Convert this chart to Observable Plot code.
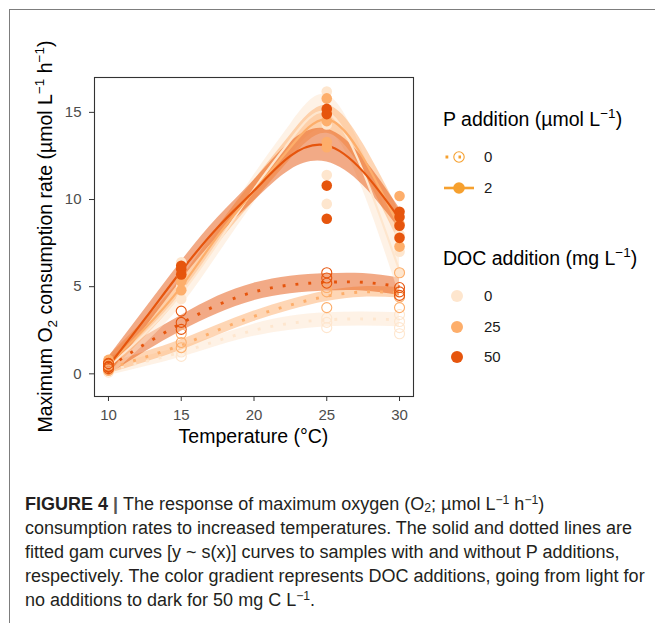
<!DOCTYPE html>
<html><head><meta charset="utf-8">
<script src="https://cdn.jsdelivr.net/npm/d3@7"></script>
<script src="https://cdn.jsdelivr.net/npm/@observablehq/plot@0.6"></script>
<style>
html,body{margin:0;padding:0;background:#fff;}
#wrap{position:relative;width:655px;height:623px;overflow:hidden;font-family:"Liberation Sans",Arial,sans-serif;background:#fff;}
#frame{position:absolute;left:9px;top:9px;width:646px;height:614px;border-top:1px solid #7d7d7d;border-left:1px solid #7d7d7d;pointer-events:none;}
#chart{position:absolute;left:0;top:0;}
#caption{position:absolute;left:25px;top:492px;font-size:18px;line-height:24px;color:#231f20;white-space:nowrap;}
#caption sub,#caption sup{font-size:0.68em;line-height:0;}
#caption sup{vertical-align:0.5em;}
#caption sub{vertical-align:-0.2em;}
</style></head>
<body><div id="wrap"><div id="chart"></div>
<div id="caption">
<div><b>FIGURE 4</b> <span style="font-weight:bold;color:#555">|</span>&nbsp;The response of maximum oxygen (O<sub>2</sub>; µmol L<sup>−1</sup> h<sup>−1</sup>)</div>
<div>consumption rates to increased temperatures. The solid and dotted lines are</div>
<div>fitted gam curves [y ~ s(x)] curves to samples with and without P additions,</div>
<div>respectively. The color gradient represents DOC additions, going from light for</div>
<div>no additions to dark for 50 mg C L<sup>−1</sup>.</div>
</div>
<div id="frame"></div></div>
<script>
// ---------- data ----------
const xTicks = [10, 15, 20, 25, 30];
const yTicks = [0, 5, 10, 15];
const docLevels = [0, 25, 50];
const docColors = ["#fee6ce", "#fdae6b", "#e6550d"];
const pLegendColor = "#f6a02e";

// fitted curves
const curveT = [10, 12.5, 15, 17.5, 20, 22.5, 25, 27.5, 30];
const fitP2doc0  = [0.4, 2.3, 4.6, 7.5, 10.6, 13.4, 15.0, 11.6, 5.9];
const seP2doc0   = [0.6, 0.6, 0.7, 0.7, 0.8, 0.9, 1.0, 1.1, 1.4];
const fitP2doc25 = [0.5, 2.6, 5.0, 7.9, 10.5, 13.0, 14.6, 12.4, 8.4];
const seP2doc25  = [0.5, 0.5, 0.5, 0.5, 0.6, 0.7, 0.8, 0.8, 0.9];
const fitP2doc50 = [0.45, 3.15, 5.9, 8.4, 10.5, 12.5, 13.1, 11.6, 8.9];
const seP2doc50  = [0.5, 0.55, 0.55, 0.55, 0.6, 0.8, 0.95, 0.8, 0.6];
const fitP0doc0  = [0.2, 0.7, 1.25, 1.9, 2.5, 2.9, 3.1, 3.15, 3.1];
const seP0doc0   = [0.3, 0.3, 0.3, 0.3, 0.35, 0.4, 0.4, 0.4, 0.4];
const fitP0doc25 = [0.3, 0.95, 1.65, 2.5, 3.3, 3.95, 4.45, 4.7, 4.65];
const seP0doc25  = [0.3, 0.3, 0.3, 0.3, 0.3, 0.3, 0.3, 0.3, 0.3];
const fitP0doc50 = [0.4, 1.7, 2.9, 3.95, 4.7, 5.1, 5.25, 5.25, 5.0];
const seP0doc50  = [0.45, 0.45, 0.45, 0.5, 0.5, 0.5, 0.5, 0.5, 0.5];

// observations: [temperature, rate]
const obsP2doc0  = [[10,0.5],[10,0.3],[10,0.7],[15,4.3],[15,5.0],[15,6.4],[25,16.2],[25,14.3],[25,11.4],[25,9.75],[30,7.0],[30,5.8],[30,8.0]];
const obsP2doc25 = [[10,0.4],[10,0.8],[10,0.6],[15,4.8],[15,5.3],[15,5.7],[25,15.8],[25,14.5],[25,13.3],[25,13.0],[30,10.2],[30,7.3],[30,8.6]];
const obsP2doc50 = [[10,0.2],[10,0.5],[10,0.6],[15,5.7],[15,6.0],[15,6.2],[25,15.2],[25,14.9],[25,10.8],[25,8.9],[30,9.3],[30,9.0],[30,8.5],[30,7.8]];
const obsP0doc0  = [[10,0.1],[10,0.3],[10,0.2],[15,1.5],[15,1.25],[15,1.0],[25,3.2],[25,2.95],[25,2.65],[30,3.4],[30,3.0],[30,2.65],[30,2.3]];
const obsP0doc25 = [[10,0.3],[10,0.5],[10,0.2],[15,2.3],[15,1.8],[15,1.5],[25,4.95],[25,4.7],[25,3.8],[30,5.8],[30,4.4],[30,3.8]];
const obsP0doc50 = [[10,0.4],[10,0.6],[10,0.3],[15,3.6],[15,2.95],[15,2.55],[25,5.8],[25,5.5],[25,5.2],[30,4.95],[30,4.7],[30,4.5]];

// ---------- tables ----------
const curves = [
  {P: 0, doc: 0, fit: fitP0doc0, se: seP0doc0},
  {P: 0, doc: 25, fit: fitP0doc25, se: seP0doc25},
  {P: 0, doc: 50, fit: fitP0doc50, se: seP0doc50},
  {P: 2, doc: 0, fit: fitP2doc0, se: seP2doc0},
  {P: 2, doc: 25, fit: fitP2doc25, se: seP2doc25},
  {P: 2, doc: 50, fit: fitP2doc50, se: seP2doc50}
];
const curveRows = curves.flatMap(c => curveT.map((t, i) => ({
  t, P: c.P, doc: c.doc, key: c.P + "-" + c.doc,
  fit: c.fit[i], lo: c.fit[i] - c.se[i], hi: c.fit[i] + c.se[i]
})));
const obsSets = [
  {P: 2, doc: 0, v: obsP2doc0}, {P: 2, doc: 25, v: obsP2doc25}, {P: 2, doc: 50, v: obsP2doc50},
  {P: 0, doc: 0, v: obsP0doc0}, {P: 0, doc: 25, v: obsP0doc25}, {P: 0, doc: 50, v: obsP0doc50}
];
const obsRows = obsSets.flatMap(s => s.v.map(([t, r]) => ({t, r, P: s.P, doc: s.doc})));

const FONT = "Liberation Sans, Arial, Helvetica, sans-serif";

const chart = Plot.plot({
  width: 655, height: 460,
  marginLeft: 94, marginRight: 242, marginTop: 77, marginBottom: 64,
  style: {background: "transparent", fontFamily: FONT, fontSize: "15px", overflow: "visible"},
  x: {domain: [9.04, 30.96], label: null},
  y: {domain: [-1.3, 17.0], label: null},
  color: {type: "ordinal", domain: docLevels, range: docColors},
  marks: [
    Plot.areaY(curveRows, {x: "t", y1: "lo", y2: "hi", z: "key", fill: "doc", fillOpacity: 0.5, curve: "natural"}),
    Plot.line(curveRows.filter(d => d.P === 0), {x: "t", y: "fit", z: "key", stroke: "doc", strokeWidth: 2.9, strokeDasharray: "2.9,10", strokeLinecap: "butt", curve: "natural"}),
    Plot.line(curveRows.filter(d => d.P === 2), {x: "t", y: "fit", z: "key", stroke: "doc", strokeWidth: 2.2, curve: "natural"}),
    Plot.dot(obsRows.filter(d => d.P === 2), {x: "t", y: "r", fill: "doc", r: 5.3}),
    Plot.dot(obsRows.filter(d => d.P === 0), {x: "t", y: "r", stroke: "doc", fill: "none", r: 5, strokeWidth: 1.1}),
    Plot.frame({stroke: "#333", strokeWidth: 1.1}),
    Plot.axisX(xTicks, {tickSize: 5, tickPadding: 8, stroke: "#333", fill: "#4d4d4d", fontSize: 15, label: null}),
    Plot.axisY(yTicks, {tickSize: 5, tickPadding: 8, stroke: "#333", fill: "#4d4d4d", fontSize: 15, label: null})
  ]
});
document.getElementById("chart").appendChild(chart);

// ---------- titles & legend ----------
const svg = d3.select(chart);
const yt = svg.append("text")
  .attr("transform", "translate(52,236.5) rotate(-90)")
  .attr("text-anchor", "middle").attr("font-family", FONT).attr("font-size", 19.5).attr("fill", "#000");
yt.append("tspan").text("Maximum O");
yt.append("tspan").attr("font-size", 13.5).attr("dy", 5).text("2");
yt.append("tspan").attr("dy", -5).text(" consumption rate (µmol L");
yt.append("tspan").attr("font-size", 13.5).attr("dy", -8).text("−1");
yt.append("tspan").attr("dy", 8).text(" h");
yt.append("tspan").attr("font-size", 13.5).attr("dy", -8).text("−1");
yt.append("tspan").attr("dy", 8).text(")");

svg.append("text").attr("x", 253.5).attr("y", 443)
  .attr("text-anchor", "middle").attr("font-family", FONT).attr("font-size", 19.5).attr("fill", "#000")
  .text("Temperature (°C)");

const lg = svg.append("g").attr("font-family", FONT).attr("text-anchor", "start");
function title(y, main, tail) {
  const t = lg.append("text").attr("x", 443).attr("y", y).attr("font-size", 19.5).attr("fill", "#000").attr("text-anchor", "start");
  t.append("tspan").text(main);
  t.append("tspan").attr("font-size", 13.5).attr("dy", -8).text("−1");
  t.append("tspan").attr("dy", 8).text(tail);
}
title(126, "P addition (µmol L", ")");
title(265, "DOC addition (mg L", ")");

// P legend
const pItems = [{label: "0", y: 157, open: true}, {label: "2", y: 188, open: false}];
pItems.forEach(it => {
  if (it.open) {
    lg.append("line").attr("x1", 445.5).attr("x2", 461).attr("y1", it.y).attr("y2", it.y)
      .attr("stroke", pLegendColor).attr("stroke-width", 2.8).attr("stroke-dasharray", "2.8,10.2");
    lg.append("circle").attr("cx", 459).attr("cy", it.y).attr("r", 5.2)
      .attr("fill", "none").attr("stroke", pLegendColor).attr("stroke-width", 1.1);
  } else {
    lg.append("line").attr("x1", 444).attr("x2", 474).attr("y1", it.y).attr("y2", it.y)
      .attr("stroke", pLegendColor).attr("stroke-width", 2.6);
    lg.append("circle").attr("cx", 459).attr("cy", it.y).attr("r", 5.8).attr("fill", pLegendColor);
  }
  lg.append("text").attr("x", 484).attr("y", it.y + 5.4).attr("font-size", 15).attr("fill", "#1a1a1a").attr("text-anchor", "start").text(it.label);
});
// DOC legend
const docY = [296, 327, 357];
docLevels.forEach((d, i) => {
  lg.append("circle").attr("cx", 457).attr("cy", docY[i]).attr("r", 6).attr("fill", docColors[i]);
  lg.append("text").attr("x", 484).attr("y", docY[i] + 5.4).attr("font-size", 15).attr("fill", "#1a1a1a").attr("text-anchor", "start").text(String(d));
});
</script></body></html>
